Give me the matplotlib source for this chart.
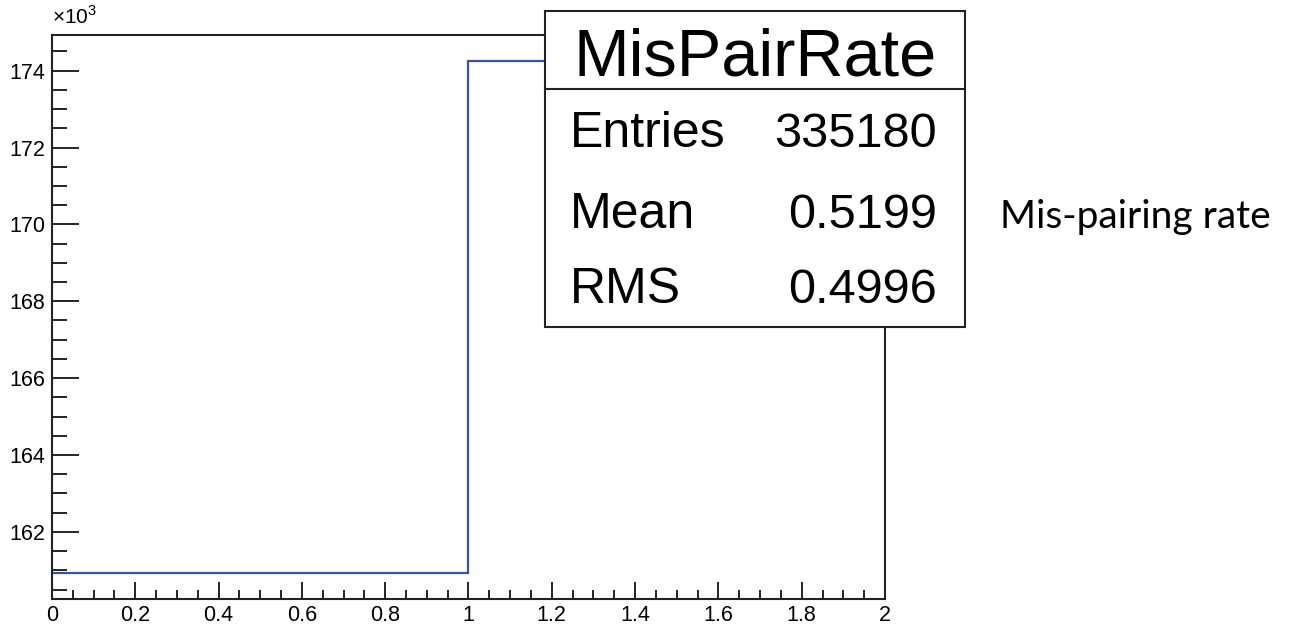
import numpy as np
import matplotlib.pyplot as plt
from matplotlib.ticker import MultipleLocator, FuncFormatter
from matplotlib.patches import Rectangle
from matplotlib.lines import Line2D

# histogram MisPairRate: 2 bins on [0, 2]
bin_edges = [0, 1, 2]
bin_counts = [160920, 174260]
hist_name = "MisPairRate"
stat_labels = ["Entries", "Mean", "RMS"]
stat_values = ["335180", "0.5199", "0.4996"]
side_note = "Mis-pairing rate"

plt.rcParams['font.family'] = ['Liberation Sans', 'DejaVu Sans']
plt.rcParams['mathtext.fontset'] = 'custom'
plt.rcParams['mathtext.rm'] = 'Liberation Sans'

fig = plt.figure(figsize=(13.09, 6.25), dpi=100)
ax = fig.add_axes([0.0397, 0.0416, 0.6364, 0.9024])

ax.stairs(bin_counts, bin_edges, baseline=None, color='#3850b0', lw=1.6)

# ROOT style auto range, 5% margin
lo, hi = min(bin_counts), max(bin_counts)
margin = 0.05 * (hi - lo)
ax.set_ylim(lo - margin, hi + margin)
ax.set_xlim(bin_edges[0], bin_edges[-1])

ax.xaxis.set_major_locator(MultipleLocator(0.2))
ax.xaxis.set_minor_locator(MultipleLocator(0.05))
ax.yaxis.set_major_locator(MultipleLocator(2000))
ax.yaxis.set_minor_locator(MultipleLocator(500))
ax.xaxis.set_major_formatter(FuncFormatter(lambda v, p: '%g' % round(v, 2)))
ax.yaxis.set_major_formatter(FuncFormatter(lambda v, p: '%g' % (v / 1000)))

ax.tick_params(axis='both', which='both', direction='in', top=False, right=False,
               labelsize=15.5, colors='black')
ax.tick_params(axis='y', which='major', length=19.5, width=1.2, pad=5)
ax.tick_params(axis='y', which='minor', length=10.8, width=1.2)
ax.tick_params(axis='x', which='major', length=12.2, width=1.2, pad=4.5)
ax.tick_params(axis='x', which='minor', length=6.5, width=1.2)
for s in ax.spines.values():
    s.set_linewidth(1.5)
    s.set_color('#222222')

ax.text(0.0, 1.012, r'$\times10^{3}$', transform=ax.transAxes, fontsize=15,
        ha='left', va='bottom')

# stats box in figure coords
bx0, bx1, by0, by1 = 0.4163, 0.7372, 0.4768, 0.9824
fig.add_artist(Rectangle((bx0, by0), bx1 - bx0, by1 - by0, transform=fig.transFigure,
                         facecolor='white', edgecolor='#222222', lw=1.5, zorder=5))
fig.add_artist(Line2D([bx0, bx1], [0.8576, 0.8576], transform=fig.transFigure,
                      color='#222222', lw=1.5, zorder=6))
fig.text((bx0 + bx1) / 2, 0.88, hist_name, fontsize=48, ha='center', va='baseline', zorder=7)
row_y = [0.7648, 0.6352, 0.5152]
for lab, val, yy in zip(stat_labels, stat_values, row_y):
    fig.text(0.4355, yy, lab, fontsize=36, ha='left', va='baseline', zorder=7)
    fig.text(0.7158, yy, val, fontsize=35, ha='right', va='baseline', zorder=7)

fig.text(0.764, 0.6352, side_note, fontsize=28, ha='left', va='baseline',
         family=['Lato', 'DejaVu Sans'])

fig.savefig('out.png', dpi=100)
